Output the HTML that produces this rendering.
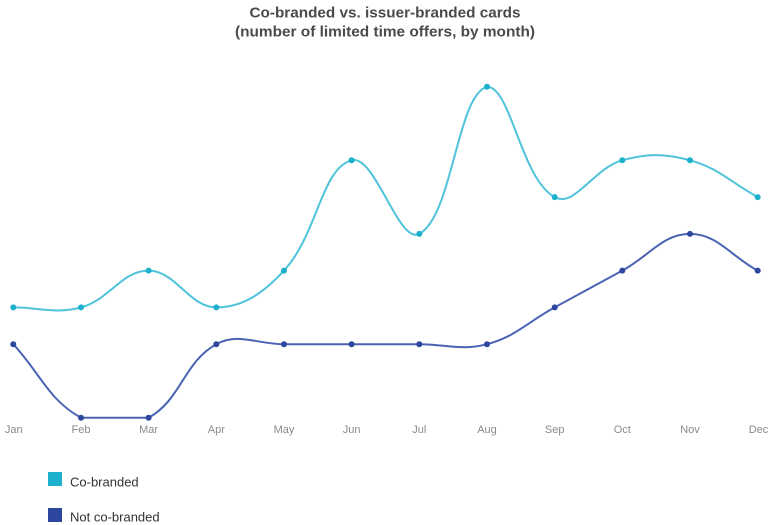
<!DOCTYPE html>
<html>
<head>
<meta charset="utf-8">
<style>
  html, body { margin: 0; padding: 0; background: #ffffff; }
  body { width: 770px; height: 525px; overflow: hidden; }
  svg { display: block; }
  text { font-family: "Liberation Sans", Arial, sans-serif; }
</style>
</head>
<body>
<svg width="770" height="525" viewBox="0 0 770 525" xmlns="http://www.w3.org/2000/svg">
  <rect width="770" height="525" fill="#ffffff"/>
  <!-- Title -->
  <text x="385" y="17.5" text-anchor="middle" font-size="15" font-weight="bold" fill="#4a4a4a" textLength="271" lengthAdjust="spacingAndGlyphs">Co-branded vs. issuer-branded cards</text>
  <text x="385" y="36.5" text-anchor="middle" font-size="15" font-weight="bold" fill="#4a4a4a" textLength="300" lengthAdjust="spacingAndGlyphs">(number of limited time offers, by month)</text>

  <!-- Co-branded line -->
  <path d="M13.3,307.4 C40.4,307.4 55.7,314.3 81.0,307.4 C109.8,299.6 121.5,270.6 148.6,270.6 C175.7,270.6 189.2,307.4 216.3,307.4 C243.4,307.4 263.8,292.6 284.0,270.6 C317.9,233.7 321.1,168.6 351.6,160.3 C375.2,153.9 398.6,245.1 419.3,233.9 C452.8,215.7 456.9,95.0 487.0,86.8 C511.1,86.8 520.8,178.7 554.7,197.1 C574.9,208.1 593.5,168.1 622.3,160.3 C647.6,153.4 664.7,153.4 690.0,160.3 C718.8,168.1 730.6,182.4 757.7,197.1" fill="none" stroke="#4ec3da" stroke-width="2"/>
  <!-- Not co-branded line -->
  <path d="M13.3,344.2 C40.4,373.6 48.7,400.2 81.0,417.7 C102.9,417.7 126.7,417.7 148.6,417.7 C180.9,400.2 184.0,361.7 216.3,344.2 C238.2,332.3 256.9,344.2 284.0,344.2 C311.1,344.2 324.5,344.2 351.6,344.2 C378.7,344.2 392.2,344.2 419.3,344.2 C446.4,344.2 461.7,351.1 487.0,344.2 C515.8,336.4 527.6,322.1 554.7,307.4 C581.8,292.7 595.2,285.3 622.3,270.6 C649.4,255.9 662.9,233.9 690.0,233.9 C717.1,233.9 730.6,255.9 757.7,270.6" fill="none" stroke="#4a63b3" stroke-width="2"/>

  <!-- Co-branded points -->
  <g fill="#1cb0cc">
    <circle cx="13.3" cy="307.4" r="3"/>
    <circle cx="81.0" cy="307.4" r="3"/>
    <circle cx="148.6" cy="270.6" r="3"/>
    <circle cx="216.3" cy="307.4" r="3"/>
    <circle cx="284.0" cy="270.6" r="3"/>
    <circle cx="351.6" cy="160.3" r="3"/>
    <circle cx="419.3" cy="233.9" r="3"/>
    <circle cx="487.0" cy="86.8" r="3"/>
    <circle cx="554.7" cy="197.1" r="3"/>
    <circle cx="622.3" cy="160.3" r="3"/>
    <circle cx="690.0" cy="160.3" r="3"/>
    <circle cx="757.7" cy="197.1" r="3"/>
  </g>
  <!-- Not co-branded points -->
  <g fill="#2c479d">
    <circle cx="13.3" cy="344.2" r="3"/>
    <circle cx="81.0" cy="417.7" r="3"/>
    <circle cx="148.6" cy="417.7" r="3"/>
    <circle cx="216.3" cy="344.2" r="3"/>
    <circle cx="284.0" cy="344.2" r="3"/>
    <circle cx="351.6" cy="344.2" r="3"/>
    <circle cx="419.3" cy="344.2" r="3"/>
    <circle cx="487.0" cy="344.2" r="3"/>
    <circle cx="554.7" cy="307.4" r="3"/>
    <circle cx="622.3" cy="270.6" r="3"/>
    <circle cx="690.0" cy="233.9" r="3"/>
    <circle cx="757.7" cy="270.6" r="3"/>
  </g>

  <!-- X axis labels -->
  <g font-size="11" fill="#8a8a8a" text-anchor="middle">
    <text x="13.8" y="433">Jan</text>
    <text x="81.0" y="433">Feb</text>
    <text x="148.6" y="433">Mar</text>
    <text x="216.3" y="433">Apr</text>
    <text x="284.0" y="433">May</text>
    <text x="351.6" y="433">Jun</text>
    <text x="419.3" y="433">Jul</text>
    <text x="487.0" y="433">Aug</text>
    <text x="554.7" y="433">Sep</text>
    <text x="622.3" y="433">Oct</text>
    <text x="690.0" y="433">Nov</text>
    <text x="758.5" y="433">Dec</text>
  </g>

  <!-- Legend -->
  <rect x="48" y="472" width="14" height="14" fill="#1cb0cc"/>
  <text x="70" y="486.5" font-size="13" fill="#333333">Co-branded</text>
  <rect x="48" y="508" width="14" height="14" fill="#2c479d"/>
  <text x="70" y="521.5" font-size="13" fill="#333333">Not co-branded</text>
</svg>
</body>
</html>
